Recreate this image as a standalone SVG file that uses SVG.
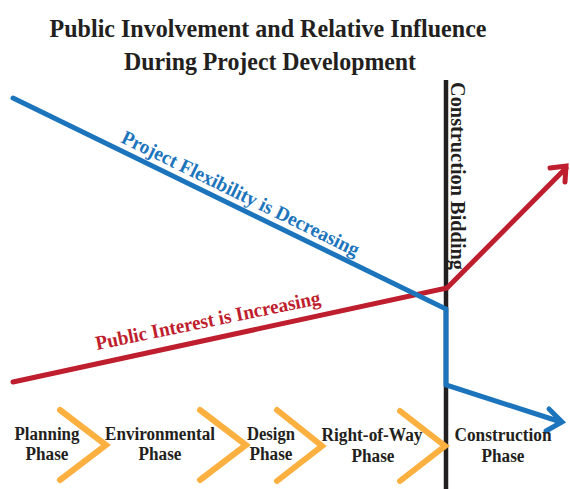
<svg xmlns="http://www.w3.org/2000/svg" width="570" height="489" viewBox="0 0 570 489">
<style>
.t{font-family:"Liberation Serif","Times New Roman",serif;font-weight:bold;fill:#231F20}
.title{font-size:26px}
.ph{font-size:18px}
.chev{fill:none;stroke:#FBB040;stroke-width:6;stroke-linecap:round;stroke-linejoin:miter}
.ln{fill:none;stroke-width:5;stroke-linecap:round;stroke-linejoin:miter}
</style>
<rect width="570" height="489" fill="#fff"/>
<g id="title">
<text class="t title" x="268" y="37" text-anchor="middle" textLength="437" lengthAdjust="spacingAndGlyphs">Public Involvement and Relative Influence</text>
<text class="t title" x="270" y="70" text-anchor="middle" textLength="292" lengthAdjust="spacingAndGlyphs">During Project Development</text>
</g>
<g id="connectors">
<line x1="446" y1="80" x2="446" y2="489" stroke="#231F20" stroke-width="4.5"/>
<polyline class="ln" stroke="#BE1E2D" points="13,382 447,288 566,168"/>
<polyline class="ln" stroke="#BE1E2D" points="550,168 566,166 565,182"/>
<polyline class="ln" stroke="#1C75BC" points="13,98 446,309 446,385 561,422"/>
<polyline class="ln" stroke="#1C75BC" points="549,409 562,422 546,431"/>
</g>
<g id="bidding">
<text class="t" font-size="20" transform="translate(451,82) rotate(90)" textLength="188" lengthAdjust="spacingAndGlyphs">Construction Bidding</text>
</g>
<g id="flexibility">
<text class="t" font-size="20" style="fill:#1C75BC" transform="translate(120,142) rotate(26)" textLength="262" lengthAdjust="spacingAndGlyphs">Project Flexibility is Decreasing</text>
</g>
<g id="interest">
<text class="t" font-size="20" style="fill:#BE1E2D" transform="translate(97,350) rotate(-11.6)" textLength="229" lengthAdjust="spacingAndGlyphs">Public Interest is Increasing</text>
</g>
<g id="chevrons">
<polyline class="chev" points="60,410 106,445 60,480"/>
<polyline class="chev" points="200,410 246,445 200,480"/>
<polyline class="chev" points="277,410 322,446 277,481"/>
<polyline class="chev" points="400,411 445,446 400,481"/>
</g>
<g id="planning">
<text class="t ph" x="47" y="440" text-anchor="middle" textLength="65" lengthAdjust="spacingAndGlyphs">Planning</text>
<text class="t ph" x="47" y="460" text-anchor="middle" textLength="43" lengthAdjust="spacingAndGlyphs">Phase</text>
</g>
<g id="environmental">
<text class="t ph" x="160" y="440" text-anchor="middle" textLength="110" lengthAdjust="spacingAndGlyphs">Environmental</text>
<text class="t ph" x="160" y="460" text-anchor="middle" textLength="43" lengthAdjust="spacingAndGlyphs">Phase</text>
</g>
<g id="design">
<text class="t ph" x="271" y="440" text-anchor="middle" textLength="48" lengthAdjust="spacingAndGlyphs">Design</text>
<text class="t ph" x="271" y="460" text-anchor="middle" textLength="43" lengthAdjust="spacingAndGlyphs">Phase</text>
</g>
<g id="rightofway">
<text class="t ph" x="372" y="441" text-anchor="middle" textLength="101" lengthAdjust="spacingAndGlyphs">Right-of-Way</text>
<text class="t ph" x="373" y="462" text-anchor="middle" textLength="43" lengthAdjust="spacingAndGlyphs">Phase</text>
</g>
<g id="construction">
<text class="t ph" x="503" y="441" text-anchor="middle" textLength="97" lengthAdjust="spacingAndGlyphs">Construction</text>
<text class="t ph" x="503" y="462" text-anchor="middle" textLength="43" lengthAdjust="spacingAndGlyphs">Phase</text>
</g>
</svg>
